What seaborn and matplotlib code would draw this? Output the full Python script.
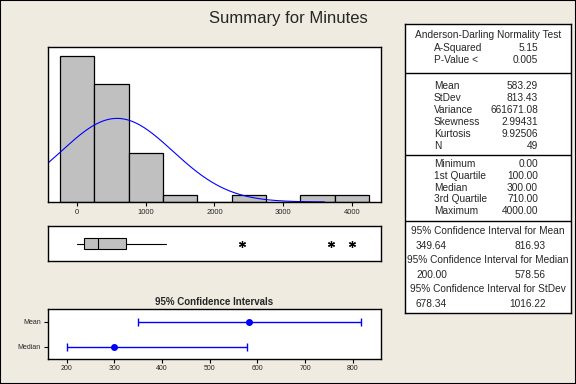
import numpy as np
import pandas as pd
import matplotlib
matplotlib.use("Agg")
import matplotlib.pyplot as plt
from matplotlib.patches import Rectangle
import seaborn as sns

# histogram of Minutes: bin midpoints and counts (bin width 500)
bin_mids = [0, 500, 1000, 1500, 2000, 2500, 3000, 3500, 4000]
bin_counts = [21, 17, 7, 1, 0, 1, 0, 1, 1]
bin_width = 500

# summary statistics
n_obs = 49
mean_val = 583.29
sd_val = 813.43
box_min, box_q1, box_med, box_q3, box_whishi = 0, 100, 300, 710, 1290
outliers = [2400, 3700, 4000]

# 95% confidence intervals
ci_labels = ["Mean", "Median"]
ci_centers = [583.29, 300.0]
ci_lows = [349.64, 200.00]
ci_highs = [816.93, 578.56]

# stats panel text
ad_rows = [("A-Squared", "5.15"), ("P-Value <", "0.005")]
moment_rows = [("Mean", "583.29"), ("StDev", "813.43"), ("Variance", "661671.08"),
               ("Skewness", "2.99431"), ("Kurtosis", "9.92506"), ("N", "49")]
quartile_rows = [("Minimum", "0.00"), ("1st Quartile", "100.00"), ("Median", "300.00"),
                 ("3rd Quartile", "710.00"), ("Maximum", "4000.00")]
ci_rows = [("95% Confidence Interval for Mean", "349.64", "816.93"),
           ("95% Confidence Interval for Median", "200.00", "578.56"),
           ("95% Confidence Interval for StDev", "678.34", "1016.22")]

sns.set_theme(style="white")
plt.rcParams["font.family"] = ["Liberation Sans", "DejaVu Sans"]

BG = "#EFEBE1"
BLUE = "#0000FF"
GREY = "#C0C0C0"

fig = plt.figure(figsize=(5.76, 3.84), dpi=100, facecolor=BG)
fig.patches.append(Rectangle((0, 0), 1, 1, transform=fig.transFigure, fill=False,
                             edgecolor="black", linewidth=1.5))

fig.text(0.5, 0.953, "Summary for Minutes", ha="center", va="center", fontsize=12)

xlim_main = (-422, 4422)

# ---------------- histogram + normal curve ----------------
ax_h = fig.add_axes([0.0833, 0.474, 0.578, 0.404])
hist_df = pd.DataFrame({"Minutes": bin_mids, "count": bin_counts})
edges = [m - bin_width / 2 for m in bin_mids] + [bin_mids[-1] + bin_width / 2]
sns.histplot(data=hist_df, x="Minutes", weights="count", bins=edges, color=GREY,
             edgecolor="black", linewidth=0.9, alpha=1, ax=ax_h)
xs = np.linspace(xlim_main[0], 3600, 300)
dens = np.exp(-0.5 * ((xs - mean_val) / sd_val) ** 2) / (sd_val * np.sqrt(2 * np.pi))
sns.lineplot(x=xs, y=dens * n_obs * bin_width, color=BLUE, linewidth=0.8, ax=ax_h)
ax_h.set_xlim(*xlim_main)
ax_h.set_ylim(0, 22.3)
ax_h.set_xticks([0, 1000, 2000, 3000, 4000])
ax_h.set_yticks([])
ax_h.set_xlabel("")
ax_h.set_ylabel("")
ax_h.tick_params(axis="x", bottom=True, length=3, width=0.8, labelsize=5.5, pad=2, color="black")

# ---------------- boxplot ----------------
ax_b = fig.add_axes([0.0833, 0.3203, 0.578, 0.0911])
stats = [dict(whislo=box_min, q1=box_q1, med=box_med, q3=box_q3, whishi=box_whishi,
              fliers=outliers)]
ax_b.bxp(stats, orientation="horizontal", positions=[0], widths=0.34, patch_artist=True,
         showcaps=False,
         boxprops=dict(facecolor=GREY, edgecolor="black", linewidth=0.8),
         medianprops=dict(color="black", linewidth=0.8),
         whiskerprops=dict(color="black", linewidth=0.8),
         flierprops=dict(marker=(6, 2, 0), markersize=5, markeredgewidth=0.9,
                         markeredgecolor="black", linestyle="none"))
ax_b.set_xlim(*xlim_main)
ax_b.set_ylim(-0.5, 0.5)
ax_b.set_xticks([])
ax_b.set_yticks([])

# ---------------- confidence intervals ----------------
ax_c = fig.add_axes([0.0833, 0.0664, 0.578, 0.129])
for i, lab in enumerate(ci_labels):
    ax_c.errorbar(ci_centers[i], i,
                  xerr=[[ci_centers[i] - ci_lows[i]], [ci_highs[i] - ci_centers[i]]],
                  fmt="o", color=BLUE, markersize=4, capsize=3, elinewidth=1, capthick=1)
ax_c.set_xlim(161, 859)
ax_c.set_ylim(1.46, -0.5)
ax_c.set_yticks(range(len(ci_labels)))
ax_c.set_yticklabels(ci_labels)
ax_c.set_xticks([200, 300, 400, 500, 600, 700, 800])
ax_c.tick_params(axis="both", bottom=True, left=True, length=3, width=0.8, labelsize=5,
                 pad=2, color="black")
ax_c.set_title("95% Confidence Intervals", fontsize=7, fontweight="bold", pad=3)

for ax in (ax_h, ax_b, ax_c):
    ax.set_facecolor("white")
    for s in ax.spines.values():
        s.set_color("black")
        s.set_linewidth(1.0)

# ---------------- stats panel ----------------
ax_t = fig.add_axes([0.7031, 0.1849, 0.2882, 0.7526])
ax_t.set_facecolor("white")
ax_t.set_xlim(0, 166)
ax_t.set_ylim(289, 0)
ax_t.set_xticks([])
ax_t.set_yticks([])
for s in ax_t.spines.values():
    s.set_color("black")
    s.set_linewidth(1.0)

fs = 7.3
ax_t.text(83, 11, "Anderson-Darling Normality Test", ha="center", va="center", fontsize=fs)
y = 24
for lab, val in ad_rows:
    ax_t.text(29, y, lab, ha="left", va="center", fontsize=fs)
    ax_t.text(133, y, val, ha="right", va="center", fontsize=fs)
    y += 12
ax_t.axhline(49, color="black", linewidth=1.0)
y = 62
for lab, val in moment_rows:
    ax_t.text(29, y, lab, ha="left", va="center", fontsize=fs)
    ax_t.text(133, y, val, ha="right", va="center", fontsize=fs)
    y += 12
ax_t.axhline(131, color="black", linewidth=1.0)
y = 140
for lab, val in quartile_rows:
    ax_t.text(29, y, lab, ha="left", va="center", fontsize=fs)
    ax_t.text(133, y, val, ha="right", va="center", fontsize=fs)
    y += 11.8
ax_t.axhline(197, color="black", linewidth=1.0)
y = 207
for head, lo, hi in ci_rows:
    ax_t.text(83, y, head, ha="center", va="center", fontsize=fs)
    ax_t.text(11, y + 15, lo, ha="left", va="center", fontsize=fs)
    ax_t.text(141, y + 15, hi, ha="right", va="center", fontsize=fs)
    y += 29

fig.savefig("out.png", dpi=100, facecolor=BG)
